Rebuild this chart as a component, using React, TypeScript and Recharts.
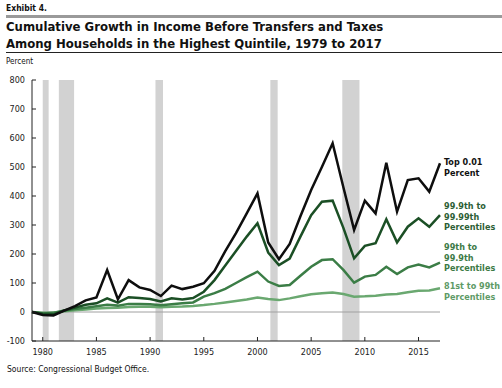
import React from 'react';
import {
  LineChart,
  Line,
  XAxis,
  YAxis,
  ReferenceArea,
  ReferenceLine,
} from 'recharts';

const years = [
  1979, 1980, 1981, 1982, 1983, 1984, 1985, 1986, 1987, 1988, 1989, 1990, 1991,
  1992, 1993, 1994, 1995, 1996, 1997, 1998, 1999, 2000, 2001, 2002, 2003, 2004,
  2005, 2006, 2007, 2008, 2009, 2010, 2011, 2012, 2013, 2014, 2015, 2016, 2017,
];

const top001 = [
  0, -10, -12, 5, 20, 40, 50, 145, 44, 110, 85, 76, 55, 91, 79, 87, 99, 142,
  210, 272, 340, 409, 240, 182, 235, 330, 421, 500, 582, 430, 283, 384, 340,
  515, 346, 455, 461, 415, 513,
];

const p999to9999 = [
  0, -6, -8, 5, 15, 25, 30, 47, 32, 51, 48, 45, 36, 47, 43, 48, 70, 110, 160,
  210, 260, 306, 205, 162, 184, 260, 334, 380, 384, 290, 185, 228, 237, 320,
  240, 294, 323, 294, 334,
];

const p99to999 = [
  0, -5, -3, 5, 10, 15, 20, 25, 22, 28, 28, 27, 23, 27, 30, 33, 53, 65, 80,
  100, 120, 139, 105, 90, 93, 125, 156, 179, 182, 145, 101, 122, 128, 156, 131,
  154, 164, 154, 170,
];

const p81to99 = [
  0, -3, -2, 3, 6, 9, 12, 14, 15, 17, 18, 18, 16, 18, 19, 21, 24, 28, 33, 38,
  43, 50, 45, 41, 47, 54, 61, 65, 67, 62, 53, 54, 56, 60, 62, 68, 73, 74, 82,
];

const recessions: [number, number][] = [
  [1980.0, 1980.55],
  [1981.5, 1982.92],
  [1990.5, 1991.2],
  [2001.2, 2001.88],
  [2007.9, 2009.5],
];

const xTicks = [1980, 1985, 1990, 1995, 2000, 2005, 2010, 2015];
const yTicks = [-100, 0, 100, 200, 300, 400, 500, 600, 700, 800];

const data = years.map((year, i) => ({
  year,
  top: top001[i],
  p999: p999to9999[i],
  p99: p99to999[i],
  p81: p81to99[i],
}));

const FONT = '"DejaVu Sans Condensed", "Liberation Sans Narrow", Arial, sans-serif';

const label = (top: number, color: string, lines: string[]) => (
  <div
    style={{
      position: 'absolute',
      left: 444,
      top,
      color,
      fontWeight: 700,
      fontSize: 9,
      lineHeight: '10.5px',
      whiteSpace: 'nowrap',
    }}
  >
    {lines.map((l) => (
      <div key={l}>{l}</div>
    ))}
  </div>
);

const App: React.FC = () => {
  return (
    <div
      style={{
        position: 'absolute',
        left: 0,
        top: 0,
        width: 502,
        height: 388,
        background: '#fff',
        fontFamily: FONT,
        color: '#111',
      }}
    >
      <div style={{ position: 'absolute', left: 6, top: 3, fontSize: 8.5, fontWeight: 700 }}>
        Exhibit 4.
      </div>
      <div
        style={{
          position: 'absolute',
          left: 6,
          top: 15,
          width: 496,
          height: 3,
          background: '#9a9a9a',
        }}
      />
      <div
        style={{
          position: 'absolute',
          left: 6,
          top: 18,
          fontSize: 13,
          fontWeight: 700,
          lineHeight: '17px',
          whiteSpace: 'nowrap',
        }}
      >
        <div>Cumulative Growth in Income Before Transfers and Taxes</div>
        <div>Among Households in the Highest Quintile, 1979 to 2017</div>
      </div>
      <div
        style={{
          position: 'absolute',
          left: 6,
          top: 52,
          width: 496,
          height: 1,
          background: '#222',
        }}
      />
      <div style={{ position: 'absolute', left: 6, top: 57, fontSize: 8 }}>Percent</div>

      <div style={{ position: 'absolute', left: 0, top: 0 }}>
        <LineChart
          width={502}
          height={388}
          data={data}
          margin={{ top: 80, right: 62, bottom: 27, left: 6 }}
        >
          {recessions.map(([a, b]) => (
            <ReferenceArea
              key={a}
              x1={a}
              x2={b}
              y1={-100}
              y2={800}
              fill="#d2d2d2"
              fillOpacity={1}
              stroke="none"
            />
          ))}
          <ReferenceLine y={0} stroke="#a0a0a0" strokeWidth={1} />
          <XAxis
            dataKey="year"
            type="number"
            domain={[1979, 2017]}
            ticks={xTicks}
            height={20}
            tickSize={-4}
            tickMargin={12}
            stroke="#222"
            tick={{ fontSize: 9, fill: '#222', fontFamily: FONT }}
          />
          <YAxis
            type="number"
            domain={[-100, 800]}
            ticks={yTicks}
            width={26}
            tickSize={-4}
            tickMargin={11}
            stroke="#222"
            tick={{ fontSize: 9, fill: '#222', fontFamily: FONT }}
          />
          <Line
            dataKey="p81"
            stroke="#6aa870"
            strokeWidth={2.5}
            dot={false}
            isAnimationActive={false}
          />
          <Line
            dataKey="p99"
            stroke="#3b7d46"
            strokeWidth={2.5}
            dot={false}
            isAnimationActive={false}
          />
          <Line
            dataKey="p999"
            stroke="#1b4f25"
            strokeWidth={2.5}
            dot={false}
            isAnimationActive={false}
          />
          <Line
            dataKey="top"
            stroke="#0e0e0e"
            strokeWidth={2.5}
            dot={false}
            isAnimationActive={false}
          />
        </LineChart>
      </div>

      {label(157, '#111', ['Top 0.01', 'Percent'])}
      {label(201, '#2c5e35', ['99.9th to', '99.99th', 'Percentiles'])}
      {label(242, '#3c7a46', ['99th to', '99.9th', 'Percentiles'])}
      {label(281, '#5e9a66', ['81st to 99th', 'Percentiles'])}

      <div style={{ position: 'absolute', left: 7, top: 364, fontSize: 8.5 }}>
        Source: Congressional Budget Office.
      </div>
    </div>
  );
};

export default App;
